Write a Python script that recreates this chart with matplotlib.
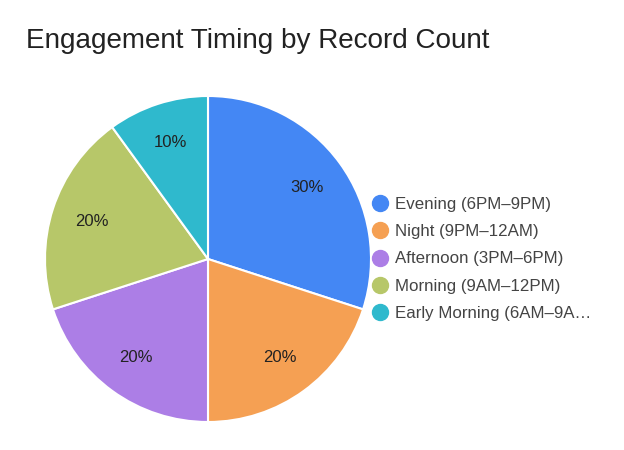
import matplotlib.pyplot as plt
from matplotlib.lines import Line2D

plt.rcParams['font.family'] = ['Liberation Sans', 'DejaVu Sans']

# dados
categorias = ['Evening (6PM–9PM)', 'Night (9PM–12AM)', 'Afternoon (3PM–6PM)',
              'Morning (9AM–12PM)', 'Early Morning (6AM–9A…']
valores = [30, 20, 20, 20, 10]
cores = ['#4487F4', '#F5A053', '#AC7EE6', '#B7C769', '#2FB9CD']

W, H = 624, 450
fig = plt.figure(figsize=(W / 100, H / 100), dpi=100)

# pizza centrada em (208, 259) px com raio 163 px
cx, cy, r = 208, 259, 163
ax = fig.add_axes([(cx - r) / W, (H - cy - r) / H, 2 * r / W, 2 * r / H])
wedges, _, autotexts = ax.pie(
    valores, colors=cores, startangle=90, counterclock=False, radius=1,
    autopct='%d%%', pctdistance=0.75,
    wedgeprops=dict(edgecolor='white', linewidth=1.5),
    textprops=dict(fontsize=12, color='#222222'))
ax.set_xlim(-1, 1)
ax.set_ylim(-1, 1)
ax.set_aspect('equal')

fig.text(26 / W, 1 - 41 / H, 'Engagement Timing by Record Count',
         fontsize=20.1, color='#222222', va='center', ha='left')

handles = [Line2D([], [], marker='o', linestyle='none', markersize=11.5,
                  markerfacecolor=c, markeredgecolor=c) for c in cores]
leg = fig.legend(handles, categorias, loc='center left',
                 bbox_to_anchor=(372 / W, 1 - 259 / H), frameon=False,
                 fontsize=12.2, handletextpad=0.35, labelspacing=0.73,
                 handlelength=1.0, borderaxespad=0, borderpad=0)
for t in leg.get_texts():
    t.set_color('#444444')

fig.savefig('out.png', dpi=100)
